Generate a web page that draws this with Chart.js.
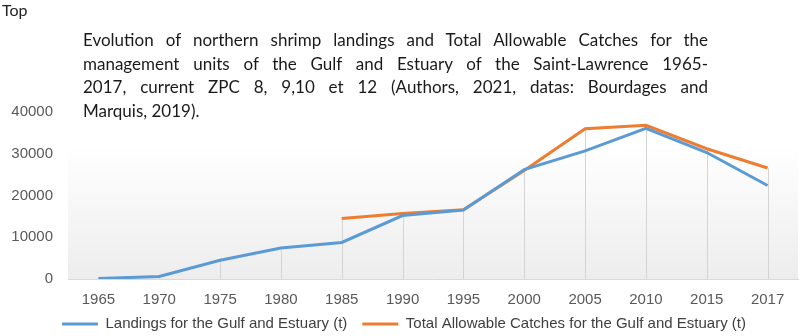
<!DOCTYPE html>
<html>
<head>
<meta charset="utf-8">
<script src="https://cdn.jsdelivr.net/npm/chart.js@4/dist/chart.umd.min.js"></script>
<style>
    html, body { margin: 0; padding: 0; background: #ffffff; }
    #wrap { position: relative; width: 800px; height: 336px; overflow: hidden; }
    #shrimp-chart { position: absolute; left: 0; top: 0; }
    #top-label {
        position: absolute; left: 2px; top: 0px;
        font-family: 'Lato', sans-serif; font-size: 16px; color: #222222;
    }
    #chart-title {
        position: absolute; left: 83px; top: 28px; width: 625px;
        font-family: 'Lato', sans-serif; font-size: 17px; line-height: 23.6px; color: #1a1a1a;
    }
    #chart-title div { text-align: justify; text-align-last: justify; white-space: nowrap; }
    #chart-title div.last { text-align-last: left; }
</style>
</head>
<body>
<div id="wrap">
    <canvas id="shrimp-chart" width="800" height="336"></canvas>
    <div id="top-label">Top</div>
    <div id="chart-title"></div>
</div>
<script>
// Chart data
const years = ['1965', '1970', '1975', '1980', '1985', '1990', '1995', '2000', '2005', '2010', '2015', '2017'];
const landings = [100, 600, 4500, 7400, 8750, 15200, 16500, 26200, 30700, 36100, 30300, 22400];
const allowableCatches = [null, null, null, null, 14500, 15700, 16600, 26000, 36000, 36800, 31200, 26600];
const yTicks = [0, 10000, 20000, 30000, 40000];

const titleLines = [
    'Evolution of northern shrimp landings and Total Allowable Catches for the',
    'management units of the Gulf and Estuary of the Saint-Lawrence 1965-',
    '2017, current ZPC 8, 9,10 et 12 (Authors, 2021, datas: Bourdages and',
    'Marquis, 2019).'
];
const seriesNames = ['Landings for the Gulf and Estuary (t)', 'Total Allowable Catches for the Gulf and Estuary (t)'];

const axisFont = "'Liberation Sans', Arial, sans-serif";

// Write the title lines (justified, like the source figure)
function buildTitle() {
    const box = document.getElementById('chart-title');
    titleLines.forEach((line, i) => {
        const div = document.createElement('div');
        div.textContent = line;
        if (i === titleLines.length - 1) div.className = 'last';
        box.appendChild(div);
    });
}

// Soft grey gradient behind the plot area
const plotBackground = {
    id: 'plotBackground',
    beforeDraw(chart) {
        const { ctx, chartArea } = chart;
        const grad = ctx.createLinearGradient(0, chartArea.top, 0, chartArea.bottom);
        grad.addColorStop(0, '#ffffff');
        grad.addColorStop(0.2, '#ffffff');
        grad.addColorStop(1, '#ededed');
        ctx.save();
        ctx.fillStyle = grad;
        ctx.fillRect(chartArea.left, chartArea.top, chartArea.right - chartArea.left, chartArea.bottom - chartArea.top);
        ctx.restore();
    }
};

// Vertical drop lines from the highest point of each year down to the axis
const dropLines = {
    id: 'dropLines',
    beforeDatasetsDraw(chart) {
        const { ctx, scales } = chart;
        ctx.save();
        ctx.strokeStyle = '#d4d4d4';
        ctx.lineWidth = 1;
        years.forEach((year, i) => {
            const top = Math.max(landings[i] || 0, allowableCatches[i] || 0);
            const x = Math.round(scales.x.getPixelForValue(i)) + 0.5;
            ctx.beginPath();
            ctx.moveTo(x, scales.y.getPixelForValue(top));
            ctx.lineTo(x, scales.y.getPixelForValue(0));
            ctx.stroke();
        });
        ctx.restore();
    }
};

// Put the legend where the figure has it: starting near the left, text centred at y=324
const legendShift = {
    id: 'legendShift',
    afterLayout(chart) {
        const legend = chart.legend;
        const w = legend.right - legend.left;
        const h = legend.bottom - legend.top;
        legend.left = 47;
        legend.right = 47 + w;
        legend.top = 324 - 15 - 7.5;
        legend.bottom = legend.top + h;
    }
};

function initializeChart() {
    buildTitle();
    const ctx = document.getElementById('shrimp-chart').getContext('2d');

    new Chart(ctx, {
        type: 'line',
        data: {
            labels: years,
            datasets: [
                {
                    label: seriesNames[0],
                    data: landings,
                    borderColor: '#5b9bd5',
                    backgroundColor: '#5b9bd5',
                    borderWidth: 3,
                    pointRadius: 0,
                    tension: 0
                },
                {
                    label: seriesNames[1],
                    data: allowableCatches,
                    borderColor: '#ed7d31',
                    backgroundColor: '#ed7d31',
                    borderWidth: 3,
                    pointRadius: 0,
                    tension: 0
                }
            ]
        },
        options: {
            responsive: false,
            animation: false,
            layout: {
                padding: { top: 112, right: 2, left: 0, bottom: -25 }
            },
            scales: {
                x: {
                    offset: true,
                    grid: { display: false, drawTicks: false },
                    border: { display: true, color: '#d9d9d9', width: 1 },
                    ticks: {
                        color: '#595959',
                        padding: 12,
                        maxRotation: 0,
                        font: { family: axisFont, size: 15 }
                    }
                },
                y: {
                    min: 0,
                    max: 40000,
                    afterBuildTicks(axis) {
                        axis.ticks = yTicks.map(v => ({ value: v }));
                    },
                    afterFit(axis) {
                        axis.width = 68;
                    },
                    grid: { display: false, drawTicks: false },
                    border: { display: false },
                    ticks: {
                        color: '#595959',
                        padding: 15,
                        font: { family: axisFont, size: 15 },
                        callback: value => String(value)
                    }
                }
            },
            plugins: {
                title: { display: false },
                tooltip: { enabled: false },
                legend: {
                    position: 'bottom',
                    align: 'start',
                    labels: {
                        usePointStyle: true,
                        pointStyle: 'line',
                        pointStyleWidth: 36,
                        boxWidth: 36,
                        padding: 15,
                        color: '#404040',
                        font: { family: axisFont, size: 15 }
                    }
                }
            }
        },
        plugins: [plotBackground, dropLines, legendShift]
    });
}

document.addEventListener('DOMContentLoaded', initializeChart);
</script>
</body>
</html>
